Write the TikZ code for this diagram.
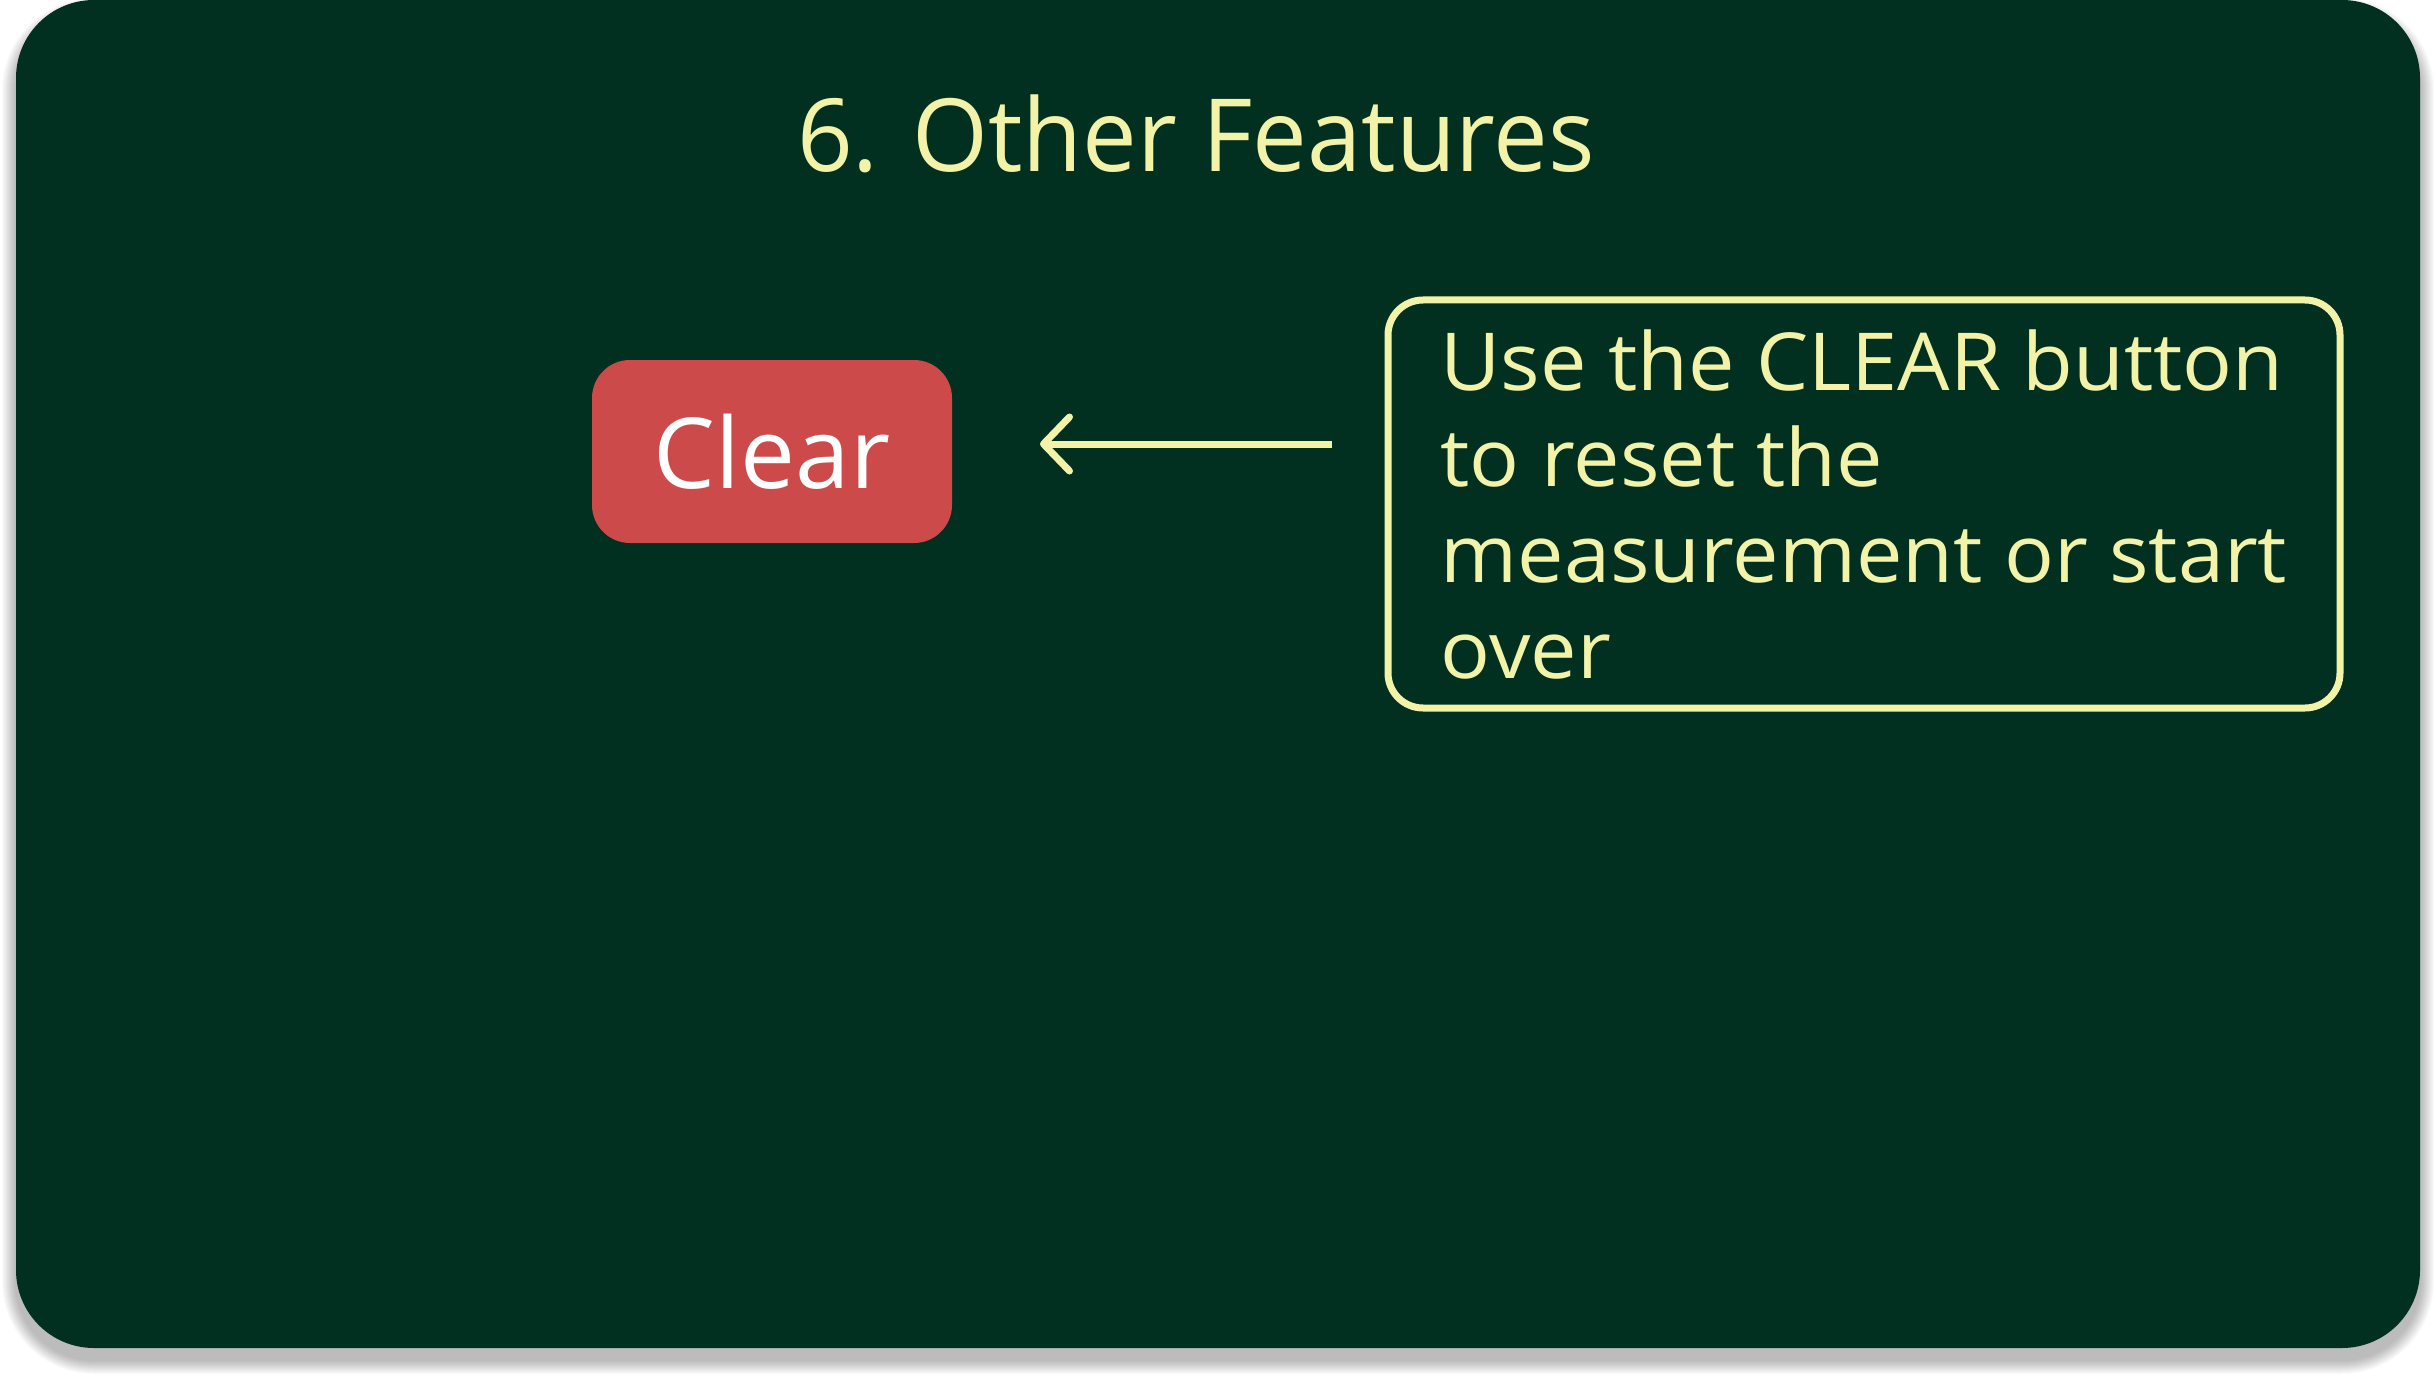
\documentclass[tikz,border=0pt]{standalone}
\usepackage{fontspec}
\setmainfont{Open Sans}
\newfontfamily\titlefont[FakeStretch=0.965]{Open Sans}
\newfontfamily\descfont[FakeStretch=1.035]{Open Sans}
\usetikzlibrary{arrows.meta}
\definecolor{bg}{HTML}{023020}
\definecolor{fg}{HTML}{F2F2A8}
\definecolor{btnred}{HTML}{CC4A4A}
\tikzset{
  titletext/.style={text=fg, font=\titlefont\fontsize{101}{120}\selectfont, inner sep=0pt, outer sep=0pt},
  clearbtn/.style={fill=btnred, rounded corners=38pt, minimum width=360pt, minimum height=183pt,
    text=white, font=\fontsize{98}{110}\selectfont, inner sep=0pt, outer sep=0pt},
  descbox/.style={draw=fg, line width=7pt, rounded corners=35pt, minimum width=952pt, minimum height=408pt,
    text=fg, align=left, font=\descfont\fontsize{80}{96}\selectfont, inner sep=0pt, outer sep=0pt},
  arr/.style={draw=fg, line width=7pt, -{Straight Barb[length=26pt, width=54pt, round]}}
}
\begin{document}
\begin{tikzpicture}[x=1pt,y=-1pt]
\useasboundingbox (0,0) rectangle (2436,1380);
\fill[white] (0,0) rectangle (2436,1380);
% soft shadow
\foreach \i in {1,...,14} {
  \pgfmathsetmacro\r{78+\i}
  \fill[black, opacity=0.02, rounded corners=\r pt] (16-\i,12-\i) rectangle (2420+\i,1360+\i);
}
% panel
\fill[bg, rounded corners=78pt] (16,0) rectangle (2420,1348);
\node[titletext, anchor=base] (title) at (1196,172) {6. Other Features};
\node[clearbtn] (clear) at (772,451.5) {Clear};
\node[descbox] (desc) at (1864,504) {Use the CLEAR button\\to reset the\\measurement or start\\over};
\draw[arr, shorten <=56pt, shorten >=88pt] ([yshift=60pt]desc.west) -- ([yshift=7.5pt]clear.east);
\end{tikzpicture}
\end{document}
